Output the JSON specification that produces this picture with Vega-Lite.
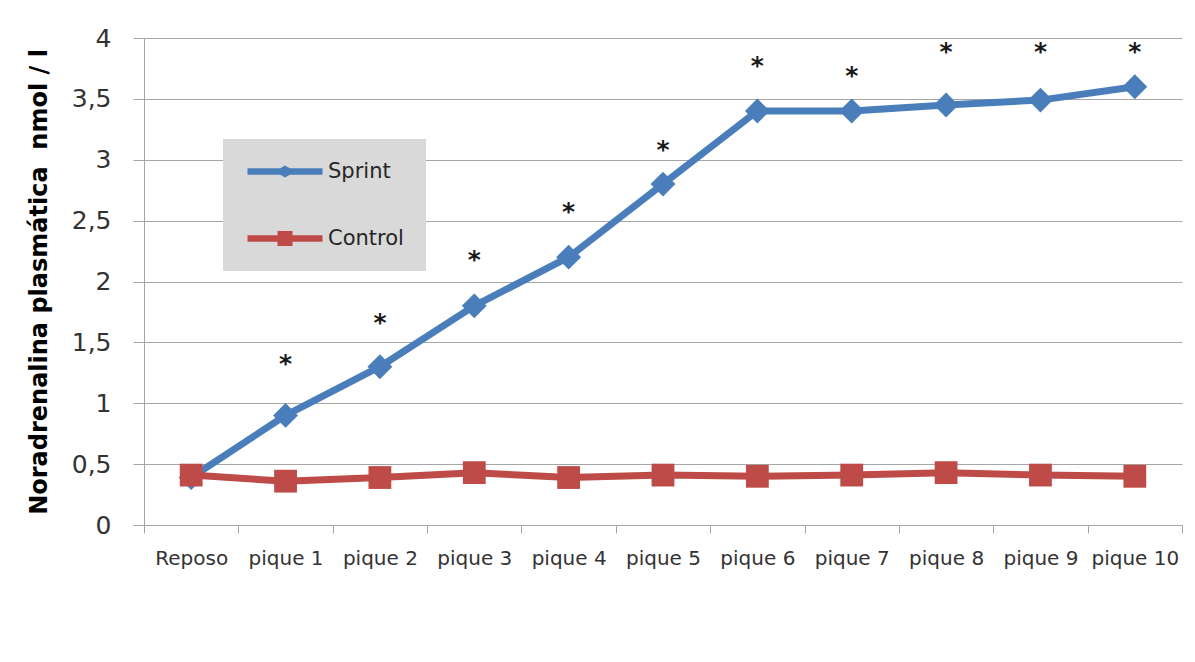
{
  "$schema": "https://vega.github.io/schema/vega-lite/v6.json",
  "autosize": {"type": "none"},
  "padding": {"left": 144, "top": 38, "right": 13, "bottom": 137},
  "width": 1038,
  "height": 487,
  "background": "#ffffff",
  "config": {
    "view": {"stroke": null},
    "font": "DejaVu Sans"
  },
  "data": {
    "values": [
      {"categoria": "Reposo", "serie": "Sprint", "valor": 0.39},
      {"categoria": "pique 1", "serie": "Sprint", "valor": 0.90, "asterisco": 1.36},
      {"categoria": "pique 2", "serie": "Sprint", "valor": 1.30, "asterisco": 1.70},
      {"categoria": "pique 3", "serie": "Sprint", "valor": 1.80, "asterisco": 2.22},
      {"categoria": "pique 4", "serie": "Sprint", "valor": 2.20, "asterisco": 2.61},
      {"categoria": "pique 5", "serie": "Sprint", "valor": 2.80, "asterisco": 3.12},
      {"categoria": "pique 6", "serie": "Sprint", "valor": 3.40, "asterisco": 3.81},
      {"categoria": "pique 7", "serie": "Sprint", "valor": 3.40, "asterisco": 3.73},
      {"categoria": "pique 8", "serie": "Sprint", "valor": 3.45, "asterisco": 3.93},
      {"categoria": "pique 9", "serie": "Sprint", "valor": 3.49, "asterisco": 3.93},
      {"categoria": "pique 10", "serie": "Sprint", "valor": 3.60, "asterisco": 3.93},
      {"categoria": "Reposo", "serie": "Control", "valor": 0.41},
      {"categoria": "pique 1", "serie": "Control", "valor": 0.36},
      {"categoria": "pique 2", "serie": "Control", "valor": 0.39},
      {"categoria": "pique 3", "serie": "Control", "valor": 0.43},
      {"categoria": "pique 4", "serie": "Control", "valor": 0.39},
      {"categoria": "pique 5", "serie": "Control", "valor": 0.41},
      {"categoria": "pique 6", "serie": "Control", "valor": 0.40},
      {"categoria": "pique 7", "serie": "Control", "valor": 0.41},
      {"categoria": "pique 8", "serie": "Control", "valor": 0.43},
      {"categoria": "pique 9", "serie": "Control", "valor": 0.41},
      {"categoria": "pique 10", "serie": "Control", "valor": 0.40}
    ]
  },
  "encoding": {
    "x": {
      "field": "categoria",
      "type": "nominal",
      "sort": null,
      "bandPosition": 0.5,
      "scale": {"type": "band", "paddingInner": 0, "paddingOuter": 0},
      "axis": {
        "title": null,
        "labelAngle": 0,
        "tickBand": "extent",
        "labelFontSize": 20,
        "labelColor": "#333333",
        "labelPadding": 15,
        "tickSize": 8,
        "tickColor": "#a6a6a6",
        "domainColor": "#a6a6a6",
        "grid": false
      }
    },
    "y": {
      "field": "valor",
      "type": "quantitative",
      "scale": {"domain": [0, 4], "nice": false},
      "axis": {
        "title": "Noradrenalina plasmática\u00a0 nmol / l",
        "titleFontSize": 24,
        "titleFontWeight": "bold",
        "titleColor": "#000000",
        "titlePadding": 20,
        "values": [0, 0.5, 1, 1.5, 2, 2.5, 3, 3.5, 4],
        "labelExpr": "replace(format(datum.value, '~g'), '.', ',')",
        "labelFontSize": 25,
        "labelColor": "#333333",
        "labelPadding": 22,
        "tickSize": 11,
        "tickColor": "#a6a6a6",
        "domainColor": "#a6a6a6",
        "grid": true,
        "gridColor": "#a6a6a6",
        "gridWidth": 1
      }
    },
    "color": {
      "field": "serie",
      "type": "nominal",
      "scale": {"domain": ["Sprint", "Control"], "range": ["#4a7ebb", "#be4b48"]},
      "legend": {
        "title": null,
        "orient": "none",
        "legendX": 79,
        "legendY": 101,
        "fillColor": "#d9d9d9",
        "padding": 22,
        "rowPadding": 45,
        "symbolType": "M-1,-0.41L3.19,-0.41L3.69,-0.69L4.19,-0.41L8.375,-0.41L8.375,0.41L4.19,0.41L3.69,0.69L3.19,0.41L-1,0.41Z",
        "symbolSize": 256,
        "labelOffset": 62,
        "labelFontSize": 21,
        "labelColor": "#262626",
        "encode": {
          "symbols": {
            "update": {
              "fill": {"scale": "color", "field": "value"},
              "stroke": {"value": "transparent"},
              "strokeWidth": {"value": 0},
              "opacity": {"value": 1},
              "shape": {"signal": "datum.value === 'Sprint' ? 'M-1,-0.41L3.09,-0.41L3.69,-0.75L4.29,-0.41L8.375,-0.41L8.375,0.41L4.29,0.41L3.69,0.75L3.09,0.41L-1,0.41Z' : 'M-1,-0.41L2.75,-0.41L2.75,-0.94L4.63,-0.94L4.63,-0.41L8.375,-0.41L8.375,0.41L4.63,0.41L4.63,0.94L2.75,0.94L2.75,0.41L-1,0.41Z'"}
            }
          }
        }
      }
    }
  },
  "layer": [
    {
      "transform": [{"filter": "datum.serie === 'Sprint'"}],
      "mark": {"type": "line", "strokeWidth": 7, "strokeJoin": "round", "strokeCap": "round"}
    },
    {
      "transform": [{"filter": "datum.serie === 'Sprint'"}],
      "mark": {"type": "point", "shape": "diamond", "filled": true, "size": 620, "opacity": 1}
    },
    {
      "transform": [{"filter": "datum.serie === 'Control'"}],
      "mark": {"type": "line", "strokeWidth": 7, "strokeJoin": "round", "strokeCap": "round"}
    },
    {
      "transform": [{"filter": "datum.serie === 'Control'"}],
      "mark": {"type": "point", "shape": "square", "filled": true, "size": 520, "opacity": 1}
    },
    {
      "transform": [{"filter": "isValid(datum.asterisco)"}],
      "mark": {"type": "text", "text": "*", "fontSize": 25, "fontWeight": "bold", "baseline": "alphabetic", "dy": 13, "color": "#1a1a1a"},
      "encoding": {
        "y": {"field": "asterisco", "type": "quantitative"},
        "color": {"value": "#1a1a1a"}
      }
    }
  ]
}
